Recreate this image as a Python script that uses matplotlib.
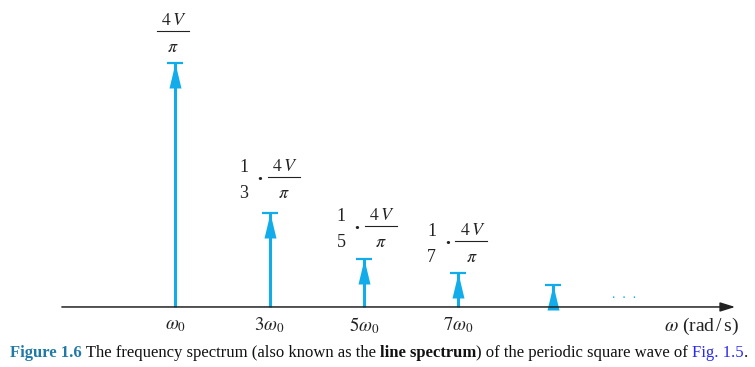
import numpy as np
import matplotlib
matplotlib.use("Agg")
import matplotlib.pyplot as plt
from matplotlib.path import Path

plt.rcParams['mathtext.fontset'] = 'stix'
plt.rcParams['font.family'] = ['Liberation Serif', 'DejaVu Serif']

# harmonics n*w0 and line heights (relative to the fundamental)
harmonics = [1, 3, 5, 7, 9]
amplitudes = [1.0, 0.385, 0.197, 0.139, 0.09]
# coefficient in front of 4V/pi for the labelled lines (None = no prefix)
label_coef = [None, '3', '5', '7']
tick_pos = [1, 3, 5, 7]
tick_labels = [r'$\omega_0$', r'$3\omega_0$', r'$5\omega_0$', r'$7\omega_0$']

BLUE = '#12acea'
INK = '#222222'
PX = 0.72  # points per pixel at dpi 100

fig = plt.figure(figsize=(7.55, 3.67), dpi=100)
ax = fig.add_axes([0, 0, 1, 1])
ax.set_xlim(-2.71, 13.28)
ax.set_ylim(-0.246, 1.258)
ax.axis('off')

# horizontal axis with arrow
ax.annotate('', xy=(12.86, 0), xytext=(-1.4, 0),
            arrowprops=dict(arrowstyle='-|>,head_length=0.9,head_width=0.28',
                            color='#222222', lw=1.1, shrinkA=0, shrinkB=0))

# spectral lines
ax.vlines(harmonics, 0, amplitudes, color=BLUE, lw=2.2)
head = Path([(0, 0), (-0.24, -1), (0.24, -1), (0, 0)],
            [Path.MOVETO, Path.LINETO, Path.LINETO, Path.CLOSEPOLY])
ax.plot(harmonics, amplitudes, ls='none', marker=head, markersize=36,
        color=BLUE, mew=0)
ax.plot(harmonics, amplitudes, ls='none', marker='_', markersize=11.5,
        color=BLUE, mew=1.6)


def put(xy, dx, dy, s, **kw):
    # place text at a pixel offset from a data point
    return ax.annotate(s, xy, xytext=(dx * PX, dy * PX),
                       textcoords='offset points', color=INK, **kw)


# amplitude labels: fraction centre offset (pixels) from the arrow top
frac_off = [(-2, 32), (14, 36), (17, 33), (13, 32)]
for n, a, coef, (fx, fy) in zip(harmonics, amplitudes, label_coef, frac_off):
    put((n, a), fx + 1, fy + 6, r'$4\,V$', ha='center', va='baseline',
        fontsize=13)
    put((n, a), fx, fy - 8, r'$\pi$', ha='center', va='top', fontsize=13)
    # fraction bar
    px_x, px_y = ax.transData.transform((n, a))
    inv = ax.transData.inverted()
    x0, y0 = inv.transform((px_x + fx - 16, px_y + fy))
    x1, _ = inv.transform((px_x + fx + 16, px_y + fy))
    ax.plot([x0, x1], [y0, y0], color=INK, lw=0.8)
    if coef is not None:
        put((n, a), fx - 40, fy + 5, '1', ha='center', va='baseline',
            fontsize=13)
        put((n, a), fx - 40, fy - 8, coef, ha='center', va='top',
            fontsize=13)
        put((n, a), fx - 24, fy - 3, '\u00b7', ha='center', va='center',
            fontsize=15, fontweight='bold')

ax.text(10.5, 0.05, '.  .  .', color=BLUE, ha='center', va='center',
        fontsize=10)

# frequency tick labels
for p, t in zip(tick_pos, tick_labels):
    ax.text(p, -0.075, t, ha='center', va='center', fontsize=13.5,
            color=INK)
ax.text(12.95, -0.08, r'$\omega$ (rad$\,$/$\,$s)', ha='right', va='center',
        fontsize=14, color=INK)

# caption built from pieces
pieces = [('Figure 1.6', 'bold', '#1f7aa6'),
          (' The frequency spectrum (also known as the ', 'normal', '#111111'),
          ('line spectrum', 'bold', '#111111'),
          (') of the periodic square wave of ', 'normal', '#111111'),
          ('Fig. 1.5', 'normal', '#2a2aee'),
          ('.', 'normal', '#111111')]
fig.canvas.draw()
renderer = fig.canvas.get_renderer()
x = 10
ybase = 1 - 357 / 367
for s, w, c in pieces:
    t = fig.text(x / 755, ybase, s, fontsize=12, fontweight=w, color=c,
                 va='baseline', ha='left')
    bb = t.get_window_extent(renderer)
    x += bb.width

fig.savefig('out.png', dpi=100)
